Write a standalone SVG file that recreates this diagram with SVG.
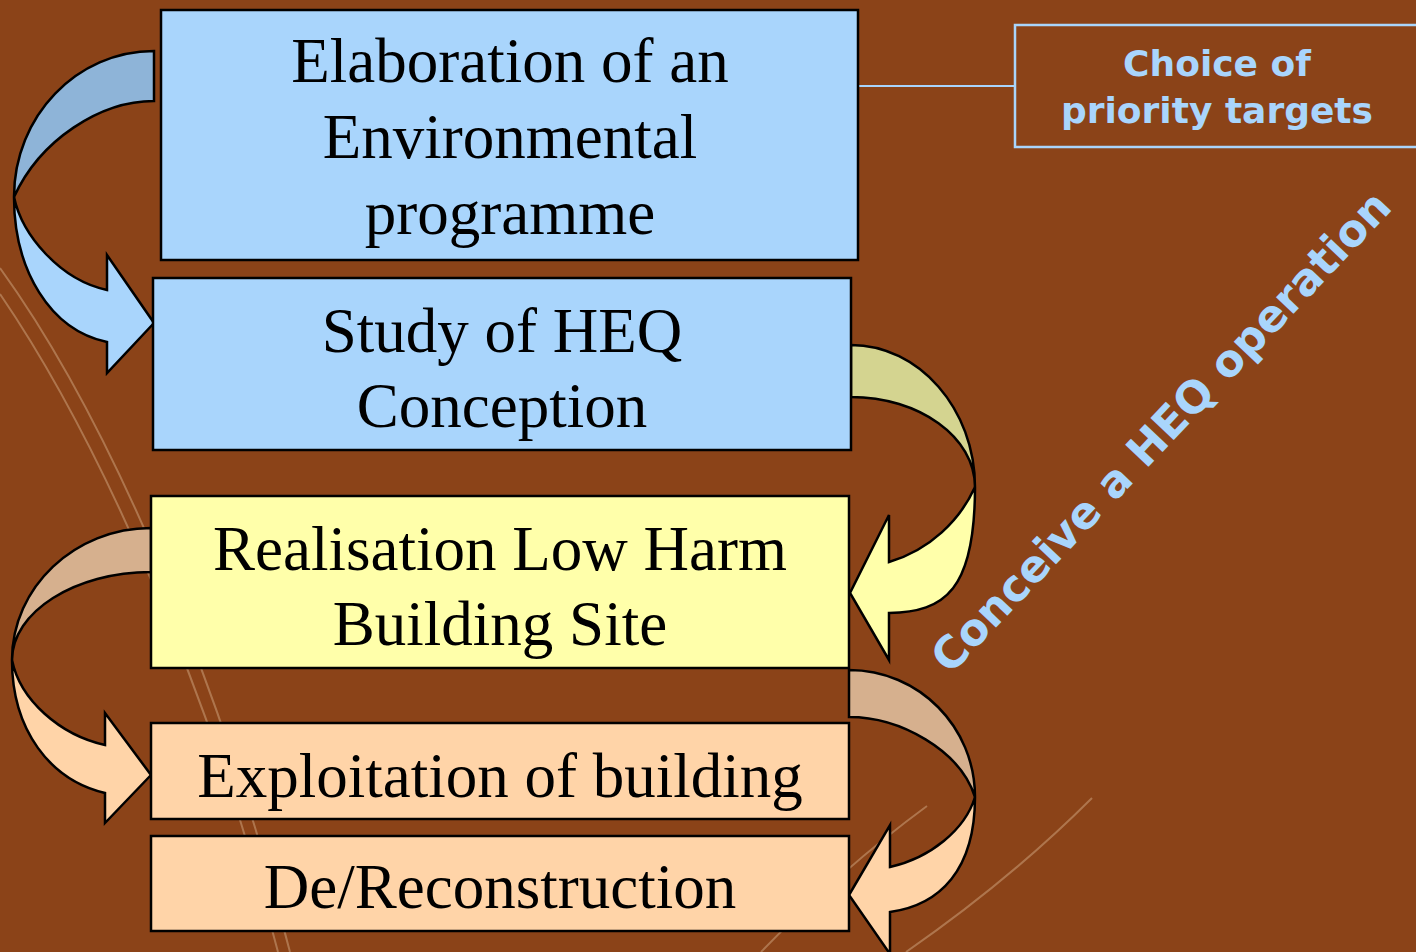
<svg xmlns="http://www.w3.org/2000/svg" width="1416" height="952" viewBox="0 0 1416 952">
<style>
.box{stroke:#000;stroke-width:2.5}
.blue{fill:#A9D5FC}
.yellow{fill:#FFFFAA}
.peach{fill:#FFD4A8}
.t{font-family:"Liberation Serif","Times New Roman",serif;font-size:63px;fill:#000;text-anchor:middle}
.arr{stroke:#000;stroke-width:2.5;stroke-linejoin:miter}
.bg{fill:none;stroke:#d9b48f;stroke-width:2;opacity:.45}
.lt{font-family:"DejaVu Sans","Noto Sans",sans-serif;font-weight:bold;fill:#A9D5FC;text-anchor:middle}
</style>
<rect width="1416" height="952" fill="#8B4318"/>
<g id="background">
<path class="bg" d="M0,268 C110,420 220,680 290,952"/>
<path class="bg" d="M0,294 C100,440 210,690 278,952"/>
<path class="bg" d="M761,952 Q840,870 927,806"/>
<path class="bg" d="M906,952 Q1010,880 1092,798"/>
</g>
<g id="connectors">
<line x1="858" y1="86" x2="1015" y2="86" stroke="#A9D5FC" stroke-width="2"/>
<path class="arr" fill="#8EB4D8" d="M154,51 C77,51 14,116 14,197 C40,140 100,101 154,101 Z"/>
<path class="arr blue" d="M14,197 C22,235 60,280 107,290 L107,255 L154,323 L107,373 L107,342 C50,330 14,270 14,197 Z"/>
<path class="arr" fill="#D4D490" d="M851,345 C919,345 975,409 975,487 C975,437 919,397 851,397 Z"/>
<path class="arr yellow" d="M975,487 C960,520 930,550 889,562 L889,515 L850,593 L889,660 L889,613 C945,612 975,590 975,487 Z"/>
<path class="arr" fill="#D6B08E" d="M151,528 C75,528 12,587 12,660 C12,612 75,572 151,572 Z"/>
<path class="arr peach" d="M12,660 C20,700 60,735 105,745 L105,713 L151,775 L105,823 L105,793 C50,780 12,730 12,660 Z"/>
<path class="arr" fill="#D6B08E" d="M849,670 C919,670 975,727 975,797 C960,750 900,717 849,717 Z"/>
<path class="arr peach" d="M975,797 C965,830 930,858 890,867 L890,825 L849,895 L890,954 L890,912 C940,905 975,870 975,797 Z"/>
</g>
<g id="n1">
<rect class="box blue" x="161" y="10" width="697" height="250"/>
<text class="t" x="510" y="82">Elaboration of an</text>
<text class="t" x="510" y="158">Environmental</text>
<text class="t" x="510" y="234">programme</text>
</g>
<g id="n2">
<rect class="box blue" x="153" y="278" width="698" height="172"/>
<text class="t" x="502" y="352">Study of HEQ</text>
<text class="t" x="502" y="427">Conception</text>
</g>
<g id="n3">
<rect class="box yellow" x="151" y="496" width="698" height="172"/>
<text class="t" x="500" y="570">Realisation Low Harm</text>
<text class="t" x="500" y="645">Building Site</text>
</g>
<g id="n4">
<rect class="box peach" x="151" y="723" width="698" height="96"/>
<text class="t" x="500" y="797">Exploitation of building</text>
</g>
<g id="n5">
<rect class="box peach" x="151" y="836" width="698" height="95"/>
<text class="t" x="500" y="908">De/Reconstruction</text>
</g>
<g id="n6">
<rect x="1015" y="25" width="420" height="122" fill="none" stroke="#A9D5FC" stroke-width="2.5"/>
<text class="lt" x="1217" y="76" font-size="36">Choice of</text>
<text class="lt" x="1217" y="123" font-size="36">priority targets</text>
</g>
<g id="label">
<text class="lt" font-size="44" transform="translate(1172,442) rotate(-46.5)">Conceive a HEQ operation</text>
</g>
</svg>
